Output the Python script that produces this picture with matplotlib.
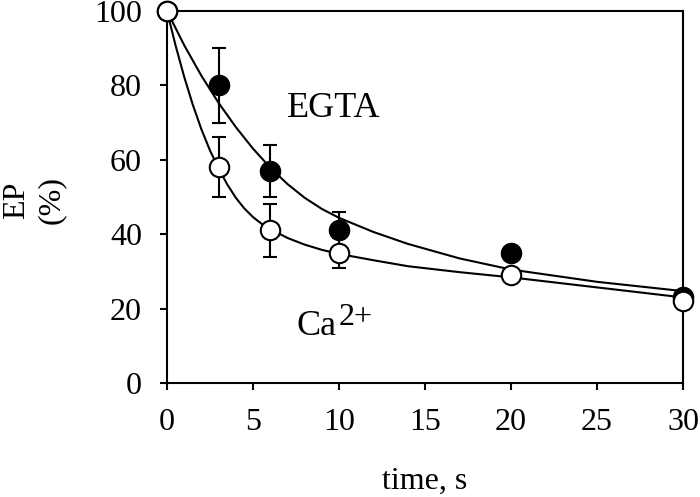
import matplotlib
matplotlib.use('Agg')
import matplotlib.pyplot as plt

# measured points (mean, error bar half-width)
t_pts = [0, 3, 6, 10, 20, 30]
egta_y = [100, 80, 57, 41, 35, 23]
egta_err = [0, 10, 7, 5, 0, 0]
ca_y = [100, 58, 41, 35, 29, 22]
ca_err = [0, 8, 7, 4, 0, 0]

# fitted curves
egta_fit_t = [0, 1, 2, 3, 4, 5, 6, 7, 8, 9, 10, 12, 14, 17, 20, 25, 30]
egta_fit_y = [100, 90.8, 82.6, 75.3, 68.8, 63.0, 57.9, 53.5, 49.8, 46.8, 44.4,
              40.6, 37.4, 33.5, 30.5, 27.2, 24.7]
ca_fit_t = [0, 0.5, 1, 1.5, 2, 2.5, 3, 3.5, 4, 4.5, 5, 5.5, 6, 7, 8, 9, 10,
            12, 14, 17, 20, 25, 30]
ca_fit_y = [100, 90.7, 82.3, 74.8, 68.2, 62.5, 57.7, 53.4, 49.8, 46.9, 44.6,
            42.8, 41.4, 39.0, 37.2, 35.8, 34.7, 33.0, 31.4, 29.8, 28.4, 25.7, 23.0]

plt.rcParams['font.family'] = ['Liberation Serif', 'DejaVu Serif']

fig = plt.figure(figsize=(7.0, 4.97), dpi=100)
ax = fig.add_axes([167/700, 1 - 383/497, 516/700, 372/497])

ax.plot(egta_fit_t, egta_fit_y, color='black', lw=1.5, clip_on=False, zorder=2)
ax.plot(ca_fit_t, ca_fit_y, color='black', lw=1.5, clip_on=False, zorder=2)

ax.errorbar(t_pts, egta_y, yerr=egta_err, fmt='o', ms=14.5, mfc='black', mec='black',
            ecolor='black', elinewidth=1.5, capsize=5, capthick=1.5, clip_on=False, zorder=3)
ax.errorbar(t_pts, ca_y, yerr=ca_err, fmt='o', ms=14, mfc='white', mec='black', mew=1.5,
            ecolor='black', elinewidth=1.5, capsize=5, capthick=1.5, clip_on=False, zorder=4)

ax.text(7.0, 73.7, 'EGTA', fontsize=26, ha='left', va='center')
ax.text(7.5, 12.9, 'Ca', fontsize=26, ha='left', va='baseline')
ax.text(9.95, 15.6, '2+', fontsize=23, ha='left', va='baseline')

ax.set_xlim(0, 30)
ax.set_ylim(0, 100)
ax.set_xticks([0, 5, 10, 15, 20, 25, 30])
ax.set_yticks([0, 20, 40, 60, 80, 100])
ax.tick_params(direction='out', length=5, width=1.5, labelsize=23, pad=13)
ax.tick_params(top=False, right=False)
for s in ax.spines.values():
    s.set_linewidth(1.5)

fig.text(425/700, 1 - 481/497, 'time, s', fontsize=23, ha='center', va='center')
fig.text(34/700, 1 - 200/497, 'EP\n(%)', rotation=90, fontsize=23,
         ha='center', va='center', linespacing=1.3)

fig.savefig('out.png', dpi=100)
